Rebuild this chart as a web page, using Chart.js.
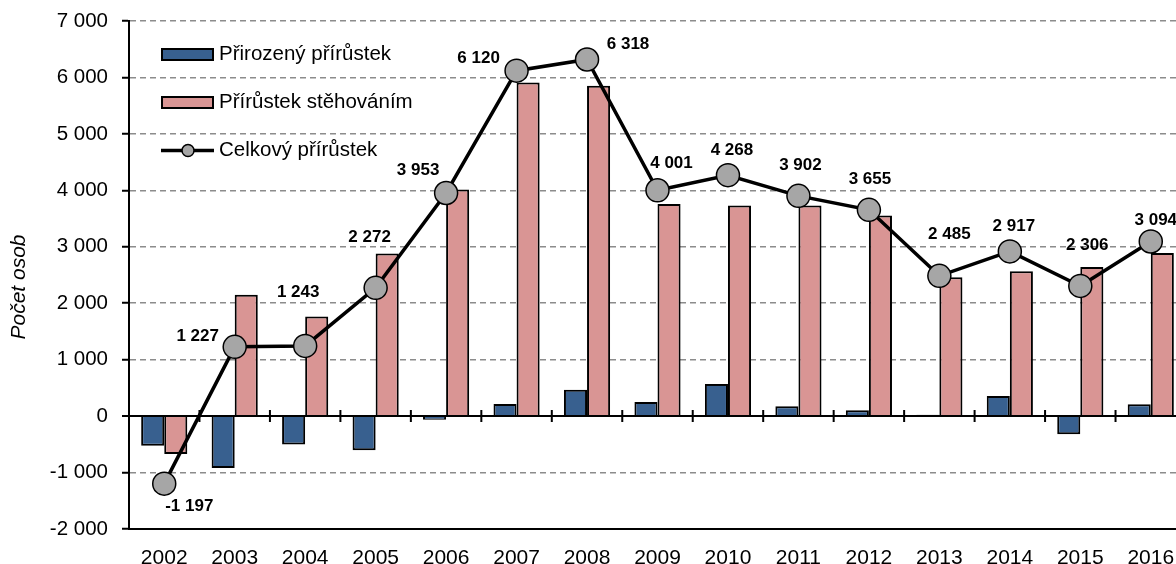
<!DOCTYPE html>
<html>
<head>
<meta charset="utf-8">
<script src="https://cdn.jsdelivr.net/npm/chart.js@4"></script>
<style>
  html, body { margin: 0; padding: 0; background: #fff; overflow: hidden; }
  #wrap { position: relative; width: 1199px; height: 564px; }
</style>
</head>
<body>
<div id="wrap"><canvas id="myChart"></canvas></div>
<script>
// data
const years = ['2002', '2003', '2004', '2005', '2006', '2007', '2008', '2009',
               '2010', '2011', '2012', '2013', '2014', '2015', '2016'];
const natural = [-527, -920, -505, -605, -65, 215, 465, 250, 570, 175, 105, 25, 358, -322, 212];
const migration = [-670, 2150, 1765, 2880, 4015, 5910, 5855, 3760, 3730, 3730, 3555, 2462, 2565, 2640, 2890];
const total = [-1197, 1227, 1243, 2272, 3953, 6120, 6318, 4001, 4268, 3902, 3655, 2485, 2917, 2306, 3094];
const yTicks = [-2000, -1000, 0, 1000, 2000, 3000, 4000, 5000, 6000, 7000];

// where each value label sits relative to its point (px)
const labelShift = [[25, 23], [-37, -11], [-7, -54], [-6, -51], [-28, -23], [-38, -12], [41, -15],
                    [14, -27], [4, -25], [2, -31], [1, -30], [10, -42], [4, -25], [7, -41], [5, -21]];

const FONT = "'Liberation Sans', Arial, sans-serif";
const BLUE = '#38608f';
const PINK = '#d99594';
const GREY = '#a6a6a6';

function fmt(v) {
    const s = Math.abs(v).toString().replace(/\B(?=(\d{3})+(?!\d))/g, ' ');
    return (v < 0 ? '-' : '') + s;
}

const extras = {
    id: 'extras',
    beforeDatasetsDraw(chart) {
        // little tick marks across the zero line at category boundaries
        const ctx = chart.ctx;
        const x = chart.scales.x, y = chart.scales.y;
        const y0 = y.getPixelForValue(0);
        const step = x.getPixelForValue(1) - x.getPixelForValue(0);
        ctx.save();
        ctx.strokeStyle = '#000';
        ctx.lineWidth = 2;
        ctx.beginPath();
        for (let i = 1; i < years.length; i++) {
            const px = x.getPixelForValue(i) - step / 2;
            ctx.moveTo(px, y0 - 6);
            ctx.lineTo(px, y0 + 6);
        }
        ctx.stroke();
        ctx.restore();
    },
    afterDatasetsDraw(chart) {
        const ctx = chart.ctx;
        // value labels for the total line
        const meta = chart.getDatasetMeta(2);
        ctx.save();
        ctx.font = 'bold 17px ' + FONT;
        ctx.fillStyle = '#000';
        ctx.textAlign = 'center';
        ctx.textBaseline = 'middle';
        meta.data.forEach((pt, i) => {
            ctx.fillText(fmt(total[i]), pt.x + labelShift[i][0], pt.y + labelShift[i][1]);
        });
        ctx.restore();

        // y axis title
        ctx.save();
        ctx.translate(19, 287);
        ctx.rotate(-Math.PI / 2);
        ctx.font = 'italic 21px ' + FONT;
        ctx.fillStyle = '#000';
        ctx.textAlign = 'center';
        ctx.textBaseline = 'middle';
        ctx.fillText('Počet osob', 0, 0);
        ctx.restore();

        // legend inside the plot
        const items = [
            { text: 'Přirozený přírůstek', color: BLUE, y: 54.5 },
            { text: 'Přírůstek stěhováním', color: PINK, y: 102.5 },
            { text: 'Celkový přírůstek', line: true, y: 150.5 }
        ];
        ctx.save();
        ctx.font = '20.5px ' + FONT;
        ctx.textBaseline = 'middle';
        items.forEach(it => {
            if (it.line) {
                ctx.strokeStyle = '#000';
                ctx.lineWidth = 3.5;
                ctx.beginPath();
                ctx.moveTo(161, it.y);
                ctx.lineTo(214, it.y);
                ctx.stroke();
                ctx.beginPath();
                ctx.arc(188, it.y, 6, 0, Math.PI * 2);
                ctx.fillStyle = GREY;
                ctx.fill();
                ctx.lineWidth = 1.5;
                ctx.stroke();
            } else {
                ctx.fillStyle = it.color;
                ctx.fillRect(162, it.y - 5.5, 51, 11);
                ctx.strokeStyle = '#000';
                ctx.lineWidth = 2;
                ctx.strokeRect(162, it.y - 5.5, 51, 11);
            }
            ctx.fillStyle = '#000';
            ctx.fillText(it.text, 219, it.y);
        });
        ctx.restore();
    }
};

document.addEventListener('DOMContentLoaded', () => {
    const ctx = document.getElementById('myChart').getContext('2d');
    new Chart(ctx, {
        data: {
            labels: years,
            datasets: [{
                type: 'bar',
                label: 'Přirozený přírůstek',
                data: natural,
                backgroundColor: BLUE,
                borderColor: '#000',
                borderWidth: 2,
                barPercentage: 1,
                categoryPercentage: 0.655,
                order: 1
            }, {
                type: 'bar',
                label: 'Přírůstek stěhováním',
                data: migration,
                backgroundColor: PINK,
                borderColor: '#000',
                borderWidth: 2,
                barPercentage: 1,
                categoryPercentage: 0.655,
                order: 1
            }, {
                type: 'line',
                label: 'Celkový přírůstek',
                data: total,
                borderColor: '#000',
                borderWidth: 3.5,
                pointRadius: 11.5,
                pointBackgroundColor: GREY,
                pointBorderColor: '#000',
                pointBorderWidth: 1.5,
                tension: 0,
                order: 0
            }]
        },
        options: {
            responsive: true,
            maintainAspectRatio: false,
            animation: false,
            layout: { padding: { top: 21, left: 0, right: 0, bottom: 0 } },
            plugins: {
                legend: { display: false },
                tooltip: { enabled: false }
            },
            scales: {
                x: {
                    offset: true,
                    grid: { display: false },
                    border: { display: true, color: '#000', width: 2 },
                    ticks: { color: '#000', font: { family: FONT, size: 21 }, padding: 9, maxRotation: 0 },
                    afterFit: s => { s.height = 35; s.paddingLeft = 0; s.paddingRight = 0; }
                },
                y: {
                    min: -2000,
                    max: 7000,
                    afterBuildTicks: s => { s.ticks = yTicks.map(v => ({ value: v })); },
                    ticks: {
                        color: '#000',
                        font: { family: FONT, size: 20.5 },
                        padding: 14,
                        callback: v => fmt(v)
                    },
                    grid: {
                        color: c => (c.tick && c.tick.value === 0) ? '#000' : '#8c8c8c',
                        lineWidth: c => (c.tick && c.tick.value === 0) ? 2 : 1.5,
                        tickColor: '#000',
                        tickWidth: 2,
                        tickLength: 7
                    },
                    border: {
                        display: true,
                        color: '#000',
                        width: 2,
                        dash: c => (c.tick && c.tick.value === 0) ? [] : [6, 4]
                    },
                    afterFit: s => { s.width = 129; s.paddingTop = 0; s.paddingBottom = 0; }
                }
            }
        },
        plugins: [extras]
    });
});
</script>
</body>
</html>
